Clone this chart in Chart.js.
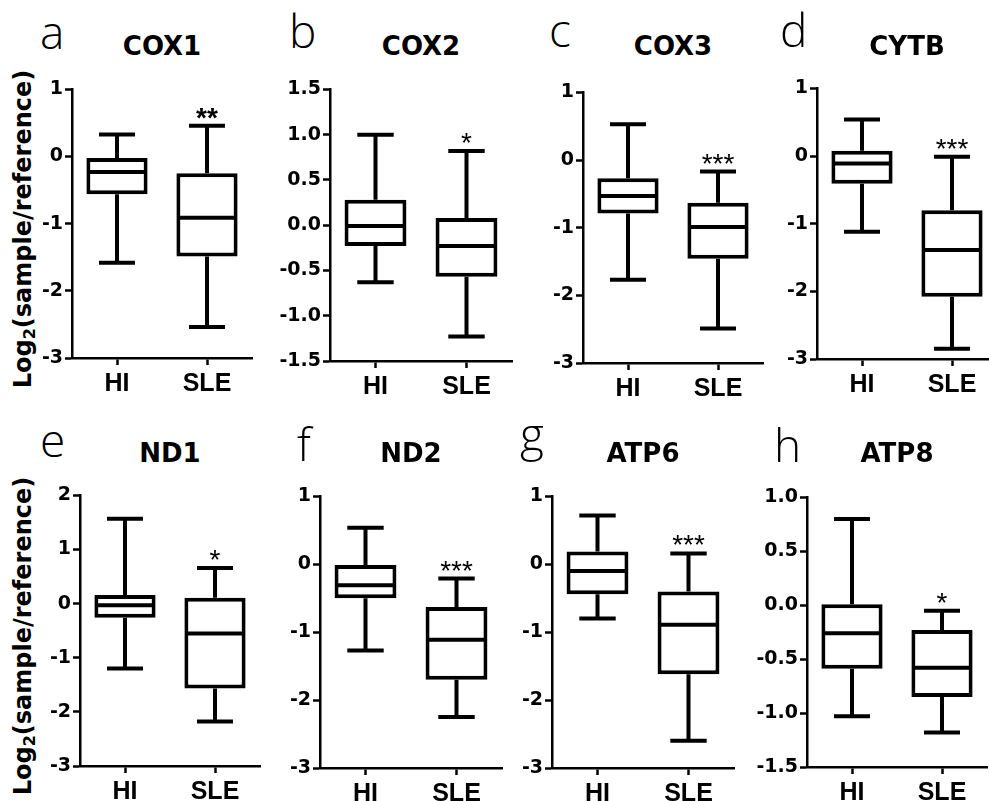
<!DOCTYPE html>
<html>
<head>
<meta charset="utf-8">
<script src="https://cdn.jsdelivr.net/npm/chart.js@4.4.1/dist/chart.umd.min.js"></script>
<style>
  html, body { margin:0; padding:0; background:#fff; overflow:hidden; }
  #page { position:relative; width:989px; height:801px; background:#fff; overflow:hidden; }
  .pane { position:absolute; }
  .title { position:absolute; width:220px; text-align:center; font-family:"DejaVu Sans", sans-serif; font-weight:bold; font-size:26px; line-height:26px; color:#000; white-space:nowrap; }
  .letter { position:absolute; font-family:"Open Sans", sans-serif; font-weight:300; font-size:46px; line-height:46px; color:#000; }
  .ytitle { position:absolute; width:340px; height:30px; line-height:30px; text-align:center; font-family:"DejaVu Sans", sans-serif; font-weight:bold; font-size:24px; color:#000; transform:rotate(-90deg); white-space:nowrap; }
  .ytitle sub { font-size:16px; vertical-align:-4px; line-height:0; }
</style>
</head>
<body>
<div id="page"></div>
<script>
// ---------- data ----------
const genes   = ['COX1','COX2','COX3','CYTB','ND1','ND2','ATP6','ATP8'];
const letters = ['a','b','c','d','e','f','g','h'];
const groups  = ['HI','SLE'];

const hiMin = [-1.58, -0.63, -1.77, -1.12, -1.20, -1.27, -0.80, -1.03];
const hiQ1  = [-0.56, -0.23, -0.79, -0.41, -0.26, -0.50, -0.44, -0.59];
const hiMed = [-0.23, -0.01, -0.53, -0.11, -0.03, -0.31, -0.10, -0.26];
const hiQ3  = [-0.02,  0.28, -0.27,  0.08,  0.16, -0.01,  0.19,  0.01];
const hiMax = [ 0.33,  1.00,  0.53,  0.54,  1.57,  0.54,  0.72,  0.80];

const sleMin = [-2.54, -1.23, -2.49, -2.85, -2.18, -2.25, -2.60, -1.18];
const sleQ1  = [-1.49, -0.57, -1.46, -2.08, -1.57, -1.70, -1.62, -0.85];
const sleMed = [-0.91, -0.23, -0.99, -1.39, -0.55, -1.11, -0.89, -0.58];
const sleQ3  = [-0.25,  0.08, -0.63, -0.80,  0.11, -0.63, -0.40, -0.23];
const sleMax = [ 0.46,  0.82, -0.17, -0.01,  0.66, -0.21,  0.16, -0.05];

const signif = ['**', '*', '***', '***', '*', '***', '***', '*'];

const yMin  = [-3, -1.5, -3, -3, -3, -3, -3, -1.5];
const yMax  = [ 1,  1.5,  1,  1,  2,  1,  1,  1.0];
const yStep = [ 1,  0.5,  1,  1,  1,  1,  1,  0.5];

// ---------- layout (pixel placement of each panel) ----------
const layoutPos = [
  {ax:72,  top:88,  bottom:358, w:180, lx:40,  ly:49},
  {ax:330, top:88,  bottom:361, w:182, lx:289, ly:48},
  {ax:583, top:91,  bottom:363, w:180, lx:549, ly:47},
  {ax:817, top:87,  bottom:359, w:180, lx:780, ly:47},
  {ax:80,  top:494, bottom:766, w:180, lx:40,  ly:457},
  {ax:320, top:495, bottom:768, w:182, lx:297, ly:461},
  {ax:552, top:495, bottom:768, w:182, lx:520, ly:451},
  {ax:807, top:496, bottom:767, w:180, lx:774, ly:462}
];
const titleBaseline = [55, 55, 55, 55, 462, 462, 462, 462];

const FONT = '"Liberation Sans", Arial, sans-serif';
const TFONT = '"DejaVu Sans", sans-serif';
const PADTOP = 12, YW = 60, XH = 45, PADR = 10;
const BOXLW = 4, AXLW = 2.5;

const page = document.getElementById('page');

function addDiv(cls, html, css) {
  const d = document.createElement('div');
  d.className = cls;
  d.innerHTML = html;
  Object.assign(d.style, css);
  page.appendChild(d);
  return d;
}

// y-axis titles
addDiv('ytitle', 'Log<sub>2</sub>(sample/reference)', {left:(23-170)+'px', top:(229-15)+'px'});
addDiv('ytitle', 'Log<sub>2</sub>(sample/reference)', {left:(23-170)+'px', top:(636-15)+'px'});

const boxPlugin = {
  id: 'boxWhiskers',
  afterDatasetsDraw(chart) {
    const i = chart.options.plugins.boxWhiskers.idx;
    const xs = chart.scales.x, ys = chart.scales.y;
    const meta = chart.getDatasetMeta(0);
    const ctx = chart.ctx;
    const stats = [
      {min:hiMin[i],  med:hiMed[i],  q1:hiQ1[i],  q3:hiQ3[i],  max:hiMax[i],  mark:''},
      {min:sleMin[i], med:sleMed[i], q1:sleQ1[i], q3:sleQ3[i], max:sleMax[i], mark:signif[i]}
    ];
    const catW = (xs.right - xs.left) / groups.length;
    const capHalf = catW * 0.2;
    ctx.save();
    ctx.strokeStyle = '#000';
    ctx.lineWidth = BOXLW;
    ctx.lineCap = 'butt';
    stats.forEach((s, k) => {
      const x = xs.getPixelForValue(k);
      const bar = meta.data[k];
      const half = bar.width / 2;
      const pMax = ys.getPixelForValue(s.max), pMin = ys.getPixelForValue(s.min);
      const pQ1 = ys.getPixelForValue(s.q1), pQ3 = ys.getPixelForValue(s.q3);
      const pMed = ys.getPixelForValue(s.med);
      ctx.beginPath();
      ctx.moveTo(x, pQ3); ctx.lineTo(x, pMax);
      ctx.moveTo(x - capHalf, pMax); ctx.lineTo(x + capHalf, pMax);
      ctx.moveTo(x, pQ1); ctx.lineTo(x, pMin);
      ctx.moveTo(x - capHalf, pMin); ctx.lineTo(x + capHalf, pMin);
      ctx.moveTo(x - half + 1, pMed); ctx.lineTo(x + half - 1, pMed);
      ctx.stroke();
      if (s.mark) {
        ctx.fillStyle = '#000';
        ctx.font = (s.mark === '**' ? 'bold ' : '') + '28px ' + FONT;
        ctx.textAlign = 'center';
        ctx.textBaseline = 'alphabetic';
        ctx.fillText(s.mark, x, pMax + 1);
      }
    });
    ctx.restore();
  }
};

genes.forEach((g, i) => {
  const L = layoutPos[i];
  const plotH = L.bottom - L.top;
  const cw = YW + L.w + PADR;
  const ch = PADTOP + plotH + XH;
  const wrap = document.createElement('div');
  wrap.className = 'pane';
  wrap.style.left = (L.ax - YW) + 'px';
  wrap.style.top = (L.top - PADTOP) + 'px';
  wrap.style.width = cw + 'px';
  wrap.style.height = ch + 'px';
  const cv = document.createElement('canvas');
  cv.width = cw; cv.height = ch;
  cv.style.width = cw + 'px'; cv.style.height = ch + 'px';
  wrap.appendChild(cv);
  page.appendChild(wrap);

  addDiv('title', g, {left:(L.ax + L.w/2 - 110)+'px', top:(titleBaseline[i] - 22)+'px'});
  addDiv('letter', letters[i], {left:L.lx+'px', top:(L.ly - 41)+'px'});

  const step = yStep[i];
  const gridOpts = {display:true, drawOnChartArea:false, drawTicks:true, tickLength:7, tickWidth:AXLW, tickColor:'#000', color:'#000', offset:false};
  new Chart(cv.getContext('2d'), {
    type: 'bar',
    data: {
      labels: groups,
      datasets: [{
        data: [[hiQ1[i], hiQ3[i]], [sleQ1[i], sleQ3[i]]],
        backgroundColor: '#fff',
        borderColor: '#000',
        borderWidth: BOXLW,
        borderSkipped: false,
        barPercentage: 0.68,
        categoryPercentage: 1
      }]
    },
    options: {
      responsive: false,
      animation: false,
      events: [],
      devicePixelRatio: 1,
      layout: {padding: {top: PADTOP, right: PADR, left: 0, bottom: 0}},
      plugins: {legend: {display: false}, tooltip: {enabled: false}, title: {display:false}, boxWhiskers: {idx: i}},
      scales: {
        x: {
          offset: true,
          grid: gridOpts,
          border: {display: true, color: '#000', width: AXLW},
          ticks: {color: '#000', font: {family: FONT, size: 25, weight: 'bold'}, padding: 4},
          afterFit(s) { s.height = XH; }
        },
        y: {
          min: yMin[i], max: yMax[i],
          grid: gridOpts,
          border: {display: true, color: '#000', width: AXLW},
          ticks: {
            stepSize: step,
            color: '#000',
            font: {family: TFONT, size: 19, weight: 'bold'},
            padding: 2,
            callback: v => step < 1 ? Number(v).toFixed(1) : String(Math.round(v))
          },
          afterFit(s) { s.width = YW; }
        }
      }
    },
    plugins: [boxPlugin]
  });
});
</script>
</body>
</html>
